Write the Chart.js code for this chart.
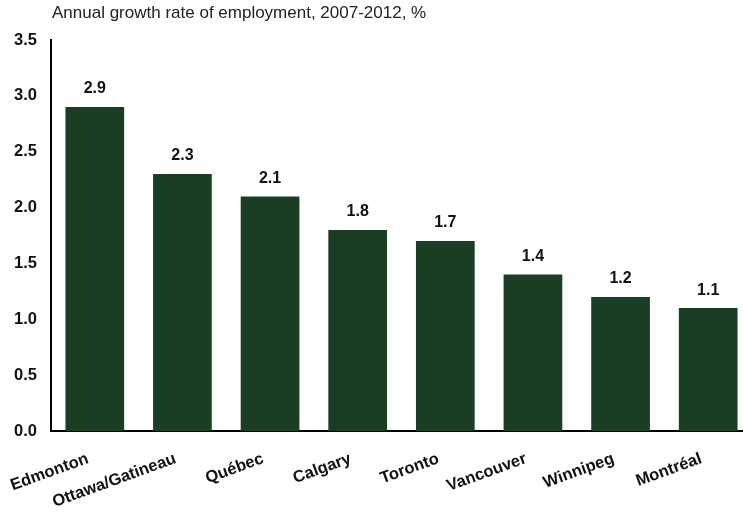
<!DOCTYPE html>
<html lang="en">
<head>
    <meta charset="UTF-8">
    <title>Employment growth</title>
    <script src="https://cdn.jsdelivr.net/npm/chart.js"></script>
    <style>
        html, body { margin: 0; padding: 0; overflow: hidden; background: #fff; }
        #wrap { width: 755px; height: 512px; }
    </style>
</head>
<body>
    <div id="wrap"><canvas id="growthChart" width="755" height="512"></canvas></div>

    <script>
    const cities = ['Edmonton', 'Ottawa/Gatineau', 'Québec', 'Calgary', 'Toronto', 'Vancouver', 'Winnipeg', 'Montréal'];
    const growth = [2.9, 2.3, 2.1, 1.8, 1.7, 1.4, 1.2, 1.1];
    const titleText = 'Annual growth rate of employment, 2007-2012, %';

    const FONT = '"Liberation Sans", Arial, sans-serif';

    // title in the top-left corner plus value labels over each bar
    const labelsPlugin = {
        id: 'labels',
        afterDraw(chart) {
            const ctx = chart.ctx;
            ctx.save();
            ctx.fillStyle = '#222';
            ctx.font = '17px ' + FONT;
            ctx.textAlign = 'left';
            ctx.textBaseline = 'middle';
            ctx.fillText(titleText, 52, 13);

            ctx.fillStyle = '#111';
            ctx.font = 'bold 16px ' + FONT;
            ctx.textAlign = 'center';
            chart.getDatasetMeta(0).data.forEach((bar, i) => {
                ctx.fillText(growth[i].toFixed(1), bar.x, bar.y - 18);
            });
            ctx.restore();
        }
    };

    new Chart(document.getElementById('growthChart'), {
        type: 'bar',
        data: {
            labels: cities,
            datasets: [{
                data: growth,
                backgroundColor: '#1b3d24',
                categoryPercentage: 0.67,
                barPercentage: 1.0
            }]
        },
        options: {
            responsive: false,
            animation: false,
            layout: { padding: { top: 40, right: 3, left: 0, bottom: 0 } },
            plugins: { legend: { display: false }, tooltip: { enabled: false } },
            scales: {
                x: {
                    grid: { display: false, drawTicks: false },
                    border: { color: '#000', width: 2 },
                    ticks: {
                        color: '#111',
                        font: { family: FONT, size: 16.5, weight: 'bold' },
                        minRotation: 20,
                        maxRotation: 20,
                        autoSkip: false,
                        padding: 18,
                        labelOffset: -7
                    },
                    afterFit(scale) {
                        // rotated labels may hang past the edges; keep the plot width fixed
                        scale.height = 81;
                        scale.paddingLeft = 0;
                        scale.paddingRight = 0;
                    }
                },
                y: {
                    min: 0,
                    max: 3.5,
                    grid: { display: false, drawTicks: false },
                    border: { color: '#000', width: 2 },
                    ticks: {
                        stepSize: 0.5,
                        color: '#111',
                        padding: 14,
                        font: { family: FONT, size: 16.5, weight: 'bold' },
                        callback: v => v.toFixed(1)
                    },
                    afterFit(scale) { scale.width = 51; }
                }
            }
        },
        plugins: [labelsPlugin]
    });
    </script>
</body>
</html>
